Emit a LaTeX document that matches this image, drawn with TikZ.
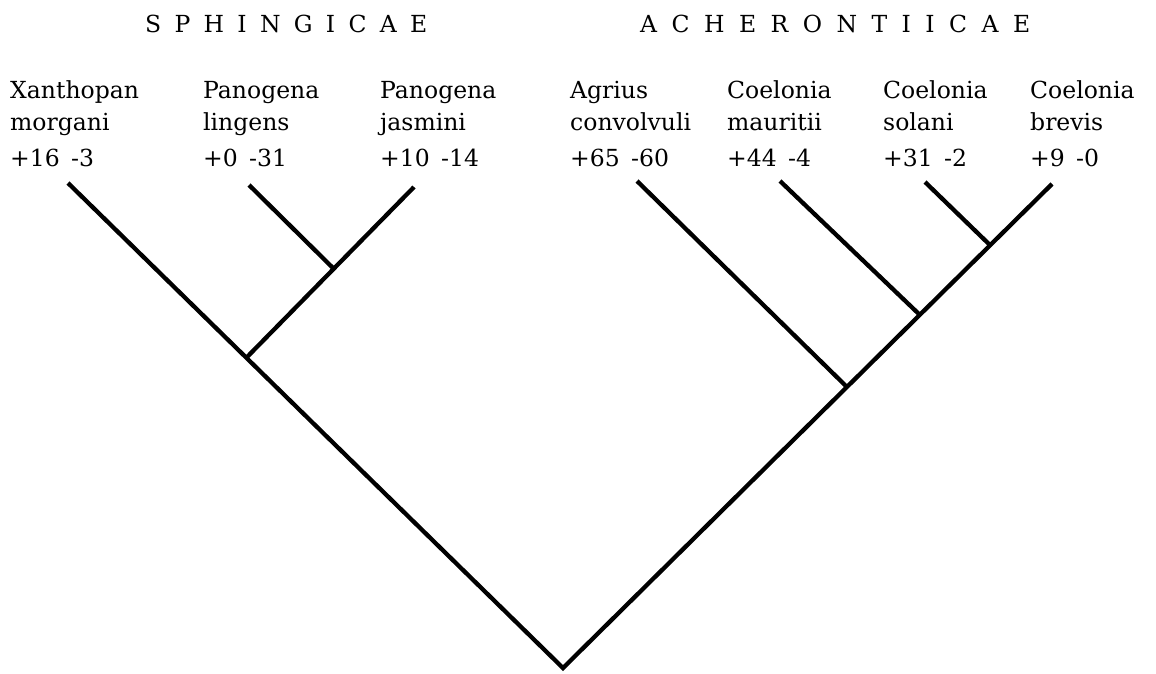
\documentclass[tikz,border=0pt]{standalone}
\usepackage{fontspec}
\setmainfont{DejaVu Serif}
\usetikzlibrary{calc}
\newcommand{\spreadword}[2]{\makebox[#1][s]{#2}}
\begin{document}
\begin{tikzpicture}[x=1pt,y=-1pt,
  branch/.style={line width=4.3pt,line join=miter},
  taxon/.style={anchor=base west,inner sep=0pt,align=left,font=\fontsize{23.5}{32}\selectfont},
  score/.style={anchor=base west,inner sep=0pt,font=\fontsize{23.5}{31}\selectfont},
  family/.style={anchor=base west,inner sep=0pt,font=\fontsize{23.5}{30}\selectfont}]
\useasboundingbox (0,0) rectangle (1156,673);
% family headings
\node[family] (sph) at (145,32) {\spreadword{282pt}{S\hfill P\hfill H\hfill I\hfill N\hfill G\hfill I\hfill C\hfill A\hfill E}};
\node[family] (ach) at (640,32) {\spreadword{390pt}{A\hfill C\hfill H\hfill E\hfill R\hfill O\hfill N\hfill T\hfill I\hfill I\hfill C\hfill A\hfill E}};
% taxa (base anchor sits on the second line)
\node[taxon] (t1) at (10,130) {Xanthopan\\morgani};
\node[taxon] (t2) at (203,130) {Panogena\\lingens};
\node[taxon] (t3) at (380,130) {Panogena\\jasmini};
\node[taxon] (t4) at (570,130) {Agrius\\convolvuli};
\node[taxon] (t5) at (727,130) {Coelonia\\mauritii};
\node[taxon] (t6) at (883,130) {Coelonia\\solani};
\node[taxon] (t7) at (1030,130) {Coelonia\\brevis};
% scores
\node[score] (s1) at (10,166) {+16\, -3};
\node[score] (s2) at (203,166) {+0\, -31};
\node[score] (s3) at (380,166) {+10\, -14};
\node[score] (s4) at (570,166) {+65\, -60};
\node[score] (s5) at (727,166) {+44\, -4};
\node[score] (s6) at (883,166) {+31\, -2};
\node[score] (s7) at (1030,166) {+9\, -0};
% tree
\coordinate (root) at (563,668);
\coordinate (e1) at (68,183);
\coordinate (e2) at (249,185);
\coordinate (e3) at (414,187);
\coordinate (e4) at (637,181);
\coordinate (e5) at (780,181);
\coordinate (e6) at (925,182);
\coordinate (e7) at (1052,184);
\coordinate (j2) at ($(root)!(247,357)!(e1)$);
\coordinate (j1) at ($(j2)!(333,268)!(e3)$);
\coordinate (k3) at ($(root)!(848,388)!(e7)$);
\coordinate (k2) at ($(root)!(920,315)!(e7)$);
\coordinate (k1) at ($(root)!(990,245)!(e7)$);
\draw[branch] (e1) -- (root) -- (e7);
\draw[branch] (j2) -- (e3);
\draw[branch] (j1) -- (e2);
\draw[branch] (k3) -- (e4);
\draw[branch] (k2) -- (e5);
\draw[branch] (k1) -- (e6);
\end{tikzpicture}
\end{document}
